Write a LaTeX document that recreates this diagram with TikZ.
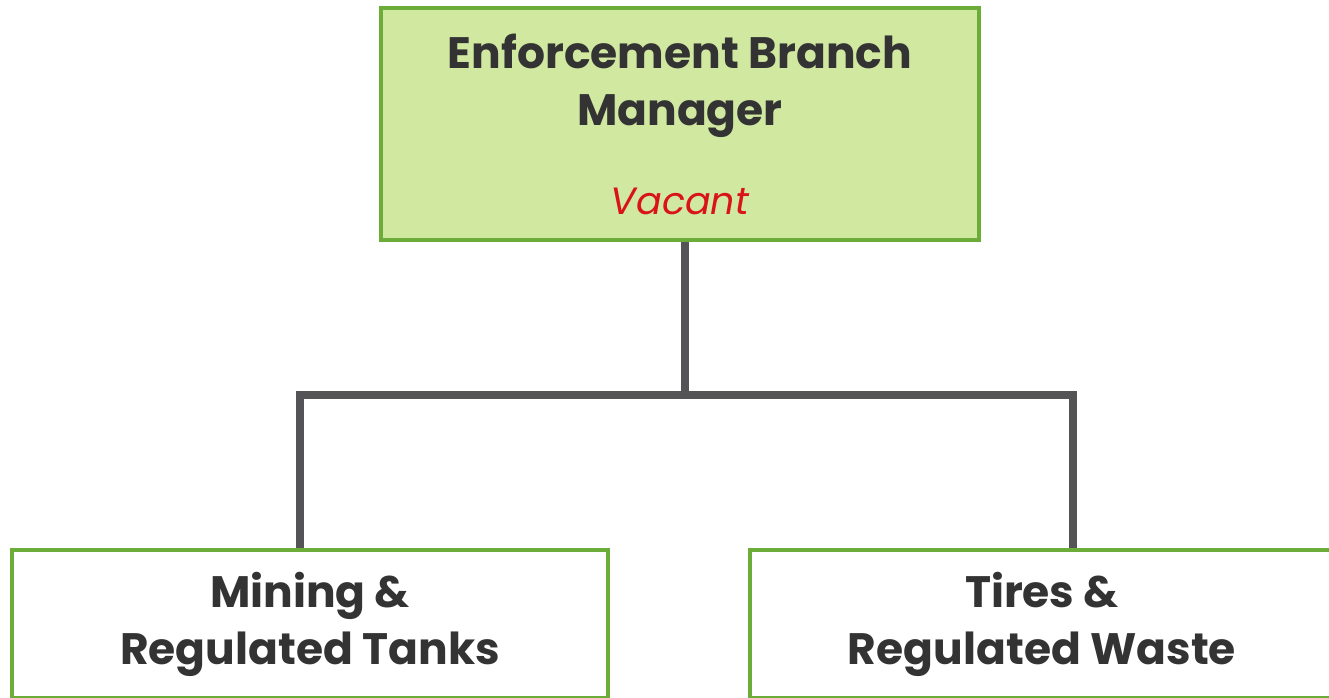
\documentclass[tikz,border=0pt]{standalone}
\usepackage{fontspec}
\setmainfont{Poppins}
\usepackage{tikz}
\usetikzlibrary{positioning}
\definecolor{boxgreen}{rgb}{.42,.68,.22}
\definecolor{boxfill}{rgb}{.82,.91,.63}
\definecolor{linegray}{rgb}{.33,.33,.34}
\definecolor{textgray}{rgb}{.2,.2,.2}
\definecolor{vacantred}{rgb}{.85,.08,.1}

\begin{document}
\begin{tikzpicture}[
x=0.5pt, y=0.5pt,
font=\fontsize{22}{28.5}\selectfont,
leitung/.style={draw=linegray, line width=4pt},
kasten/.style={draw=boxgreen, line width=2pt, text=textgray, align=center, inner sep=0pt}
]
% Rahmen
\useasboundingbox (0,0) rectangle (1329,697);

% Leiter
\node[kasten, fill=boxfill, minimum width=299pt, minimum height=116pt] (chef) at (680,573)
  {\bfseries Enforcement Branch\\\bfseries Manager\\[16pt]{\fontsize{19}{28.5}\selectfont\itshape\color{vacantred}Vacant}};

% Abteilungen
\node[kasten, fill=white, minimum width=298pt, minimum height=73.5pt] (tanks) at (310,73)
  {\bfseries Mining \&\\\bfseries Regulated Tanks};
\node[kasten, fill=white, minimum width=292pt, minimum height=73.5pt] (waste) at (1042,73)
  {\bfseries Tires \&\\\bfseries Regulated Waste};

% Verbindungen
\coordinate (knoten) at (685,302);
\coordinate (links) at (300,302);
\coordinate (rechts) at (1073,302);
\draw[leitung] (chef.south -| knoten) -- (knoten);
\draw[leitung, line cap=rect] (links) -- (rechts);
\draw[leitung] (links) -- (links |- tanks.north);
\draw[leitung] (rechts) -- (rechts |- waste.north);
\end{tikzpicture}
\end{document}
